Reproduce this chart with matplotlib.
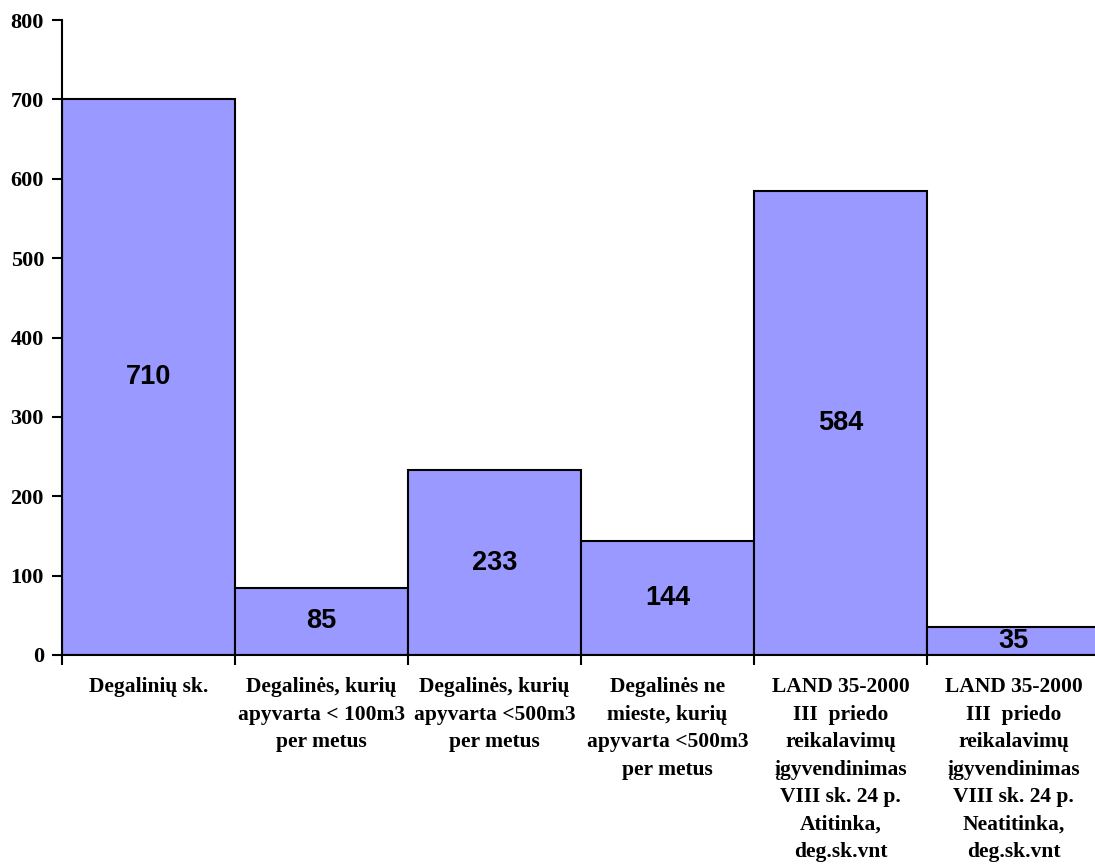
import matplotlib
matplotlib.use("Agg")
import matplotlib.pyplot as plt
import numpy as np

categories = [
    "Degalinių sk.",
    "Degalinės, kurių\napyvarta < 100m3\nper metus",
    "Degalinės, kurių\napyvarta <500m3\nper metus",
    "Degalinės ne\nmieste, kurių\napyvarta <500m3\nper metus",
    "LAND 35-2000\nIII  priedo\nreikalavimų\nįgyvendinimas\nVIII sk. 24 p.\nAtitinka,\ndeg.sk.vnt",
    "LAND 35-2000\nIII  priedo\nreikalavimų\nįgyvendinimas\nVIII sk. 24 p.\nNeatitinka,\ndeg.sk.vnt",
]
bar_heights = [700, 85, 233, 144, 584, 35]
value_labels = ["710", "85", "233", "144", "584", "35"]
yticks = [0, 100, 200, 300, 400, 500, 600, 700, 800]

W, H = 1095, 866
fig = plt.figure(figsize=(W / 100, H / 100), dpi=100)
left, right = 62 / W, 1100 / W
bottom, top = 1 - 655 / H, 1 - 20 / H
ax = fig.add_axes([left, bottom, right - left, top - bottom])

x = np.arange(len(categories))
ax.bar(x, bar_heights, width=1.0, color="#9999FF", edgecolor="black", linewidth=1.5)

for xi, h, lab in zip(x, bar_heights, value_labels):
    ax.text(xi, h / 2, lab, ha="center", va="center", fontsize=19.5,
            fontweight="bold", family="Liberation Sans")

ax.set_xlim(-0.5, len(categories) - 0.5)
ax.set_ylim(0, 800)
ax.set_yticks(yticks)
ax.set_yticklabels([str(t) for t in yticks], fontsize=16, fontweight="bold",
                   family="Liberation Serif")

# category boundaries as ticks
ax.set_xticks(np.arange(len(categories) + 1) - 0.5)
ax.set_xticklabels([])
ax.set_xticks(x, minor=True)
ax.set_xticklabels(categories, minor=True, fontsize=15.5, fontweight="bold",
                   family="Liberation Serif", linespacing=1.5)
ax.tick_params(axis="x", which="minor", length=0, pad=16)
ax.tick_params(axis="x", which="major", length=7, width=1.5, direction="out")
ax.tick_params(axis="y", length=7, width=1.5, direction="out", pad=6)

for s in ["top", "right"]:
    ax.spines[s].set_visible(False)
for s in ["left", "bottom"]:
    ax.spines[s].set_linewidth(1.5)

fig.savefig("out.png", dpi=100)
